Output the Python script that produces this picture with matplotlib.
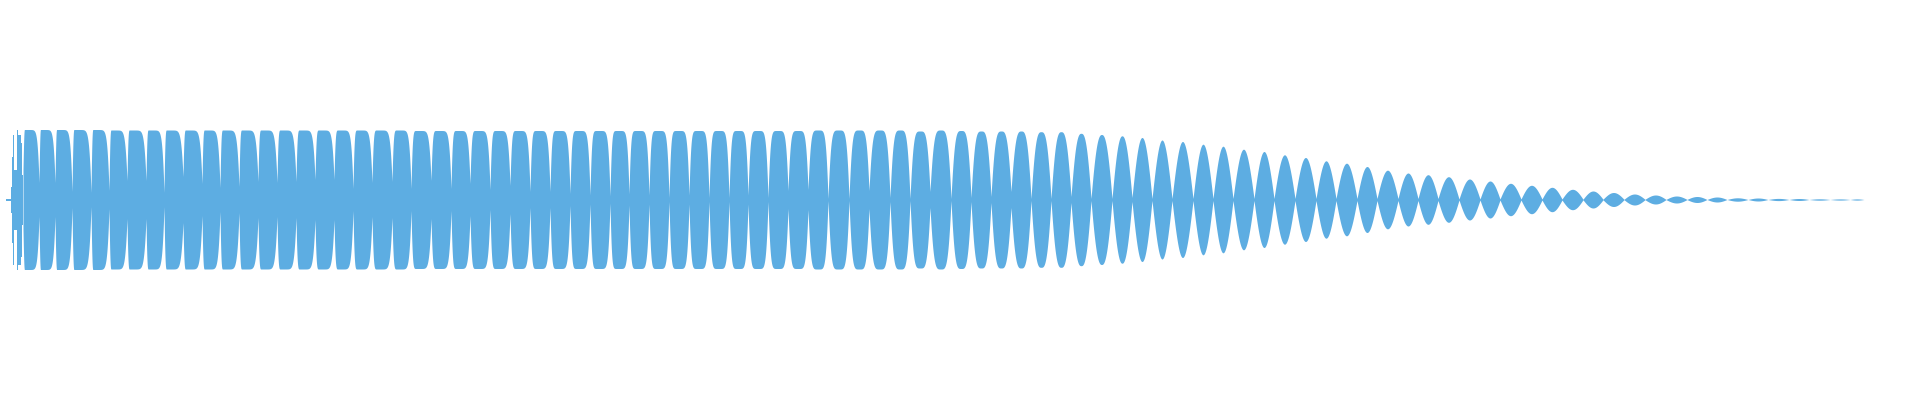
import numpy as np
import matplotlib
matplotlib.use("Agg")
import matplotlib.pyplot as plt

wave_color = "#5DADE2"

# lead-in before the first full lobe: segment edges and half-height (px scale)
intro_edges = [6, 10.5, 11.7, 12.7, 14, 17, 18.3, 20.7, 22.3, 23]
intro_amp = [1, 13, 43, 65, 30, 70, 65, 57, 25]

# boundaries between lobes (the narrow "necks" of the waveform)
lobe_bounds = [23, 39, 55, 72, 91, 109, 127, 146, 164, 183, 202, 220, 239, 258, 277, 296, 315, 334, 353, 372, 392,
               411, 431, 451, 470, 490, 510, 530, 550, 570, 590, 610, 629, 649, 669, 689, 709, 729, 748, 768, 788,
               808, 828, 849, 869, 890, 910, 930, 951, 971, 991, 1011, 1031, 1051, 1071, 1091, 1112, 1132, 1152, 1172,
               1193, 1213, 1233, 1254, 1274, 1295, 1316, 1336, 1357, 1377, 1398, 1418, 1438, 1459, 1480, 1500, 1521,
               1542, 1562, 1583, 1603, 1624, 1645, 1666, 1687, 1707, 1727, 1748, 1768, 1789, 1809, 1830, 1850, 1864]

# half-height at each neck
neck_amp = [30, 17, 17, 8, 7, 9, 19, 19, 7, 23, 16, 12, 13, 18, 17, 18, 20, 20, 11, 17, 18,
            11, 19, 11, 16, 10, 14, 8, 8, 6, 4.5, 3.5, 5.5, 4.5, 2, 4.5, 2, 2, 4.5, 2, 9,
            10, 1, 1, 9, 2, 1, 8, 1, 2, 3, 8, 1, 1, 3, 1, 1, 2, 1, 1,
            1, 1, 1, 1, 1, 1, 1, 1, 1, 1, 1, 1, 1, 0.5, 0.5, 0.5, 0.5,
            0.5, 0.5, 0.3, 0.3, 0.2, 0.2, 0.1, 0.1, 0, 0, 0, 0, 0, 0, 0, 0, 0]

# peak half-height of every lobe
peak_amp = [70, 70, 70, 70, 70, 69.5, 69.5, 69.5, 69.5, 69.5, 69.5, 69.5, 69.5, 69.5, 69.5, 69.5, 69.5, 69.5,
            69.5, 69.5, 69.5, 69, 69, 69, 69, 69, 69, 69, 69, 69, 69, 69, 69, 69, 69, 69, 69, 69, 69, 69, 69,
            69.5, 69.5, 69.5, 69.5, 69.5, 68.5, 69.5, 69, 68.5, 68.5, 68.5, 67.8, 67.8, 66.2, 65, 63.7, 62, 59.5,
            58, 55.3, 53.3, 50.3, 48, 44.7, 42, 38.7, 36.3, 33, 29.3, 26.5, 24.8, 22.8, 20.5, 18.5, 16.2, 14.2,
            12.2, 10.2, 8.5, 7, 5.5, 4.5, 3.5, 3, 2.5, 1.7, 1.5, 1.1, 1, 0.7, 0.6, 0.6]

fig = plt.figure(figsize=(19.2, 4), dpi=100)
ax = fig.add_axes([0, 0, 1, 1])

# lead-in
ax.fill_between(intro_edges, [-a for a in intro_amp] + [-intro_amp[-1]],
                intro_amp + [intro_amp[-1]], step="post", color=wave_color, linewidth=0)

xs, env = [], []
for i in range(len(peak_amp)):
    b0, b1 = lobe_bounds[i], lobe_bounds[i + 1]
    xc = 0.5 * (b0 + b1)
    # lobe shape: flat-topped and front-loaded at first, lens shaped later
    tp = np.interp(xc, [0, 250, 650, 850], [0.08, 0.15, 0.42, 0.5])
    ml = np.interp(xc, [0, 250, 650, 900, 1150], [1.0, 2.0, 3.5, 2.2, 1.0])
    mr = np.interp(xc, [0, 400, 700, 900, 1150], [5.0, 4.5, 3.5, 2.2, 1.0])
    x = np.linspace(b0, b1, 200)
    t = (x - b0) / (b1 - b0)
    u = np.where(t < tp, (tp - t) / tp, (t - tp) / (1 - tp))
    m = np.where(t < tp, ml, mr)
    s = np.cos(np.pi / 2 * np.clip(u, 0, 1) ** m)
    base = neck_amp[i] + (neck_amp[i + 1] - neck_amp[i]) * t
    xs.append(x)
    env.append(base + (peak_amp[i] - base) * s)

xs = np.concatenate(xs)
env = np.concatenate(env)
ax.fill_between(xs, -env, env, color=wave_color, linewidth=0)

ax.set_xlim(0, 1920)
ax.set_ylim(-200.5, 199.5)
ax.axis("off")

fig.savefig("out.png", dpi=100, facecolor="white")
